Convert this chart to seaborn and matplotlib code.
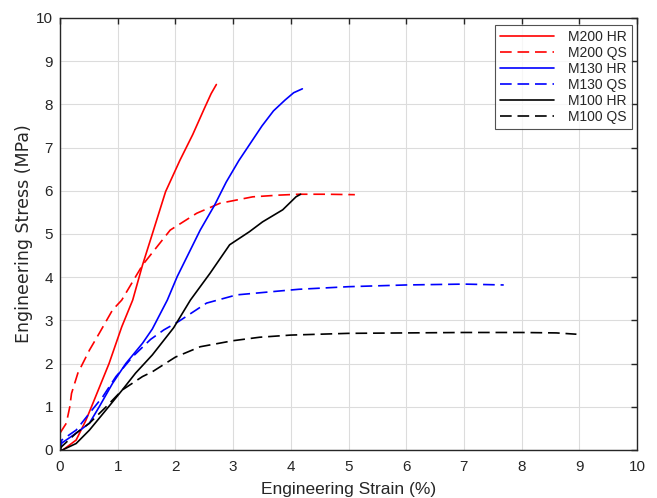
import matplotlib
matplotlib.use("Agg")
import matplotlib.pyplot as plt
import seaborn as sns
import pandas as pd

# strain (%) / stress (MPa)
m200_hr_strain = [0.0, 0.05, 0.28, 0.45, 0.57, 0.71, 0.85, 1.07, 1.26, 1.43, 1.6, 1.83, 2.08, 2.3, 2.5, 2.62, 2.71]
m200_hr_stress = [0.0, 0.0, 0.23, 0.69, 1.08, 1.54, 2.0, 2.85, 3.47, 4.28, 5.0, 5.98, 6.71, 7.3, 7.9, 8.25, 8.46]

m200_qs_strain = [0.0, 0.11, 0.17, 0.2, 0.31, 0.51, 0.68, 0.91, 1.07, 1.43, 1.91, 2.37, 2.77, 3.34, 3.8, 4.14, 4.6, 5.11]
m200_qs_stress = [0.39, 0.62, 1.0, 1.31, 1.78, 2.31, 2.7, 3.24, 3.47, 4.28, 5.09, 5.48, 5.71, 5.86, 5.9, 5.92, 5.92, 5.91]

m130_hr_strain = [0.0, 0.03, 0.28, 0.51, 0.68, 0.91, 1.14, 1.43, 1.6, 1.86, 2.03, 2.43, 2.68, 2.88, 3.1, 3.3, 3.5, 3.7, 3.9, 4.05, 4.2]
m130_hr_stress = [0.0, 0.16, 0.39, 0.62, 1.0, 1.54, 2.0, 2.47, 2.8, 3.47, 4.01, 5.09, 5.67, 6.2, 6.7, 7.1, 7.5, 7.85, 8.1, 8.27, 8.36]

m130_qs_strain = [0.0, 0.03, 0.28, 0.51, 0.74, 0.97, 1.26, 1.57, 1.8, 2.05, 2.54, 3.06, 3.8, 4.14, 5.0, 6.0, 7.0, 7.69]
m130_qs_stress = [0.0, 0.23, 0.46, 0.85, 1.23, 1.7, 2.16, 2.56, 2.78, 2.97, 3.4, 3.59, 3.68, 3.72, 3.78, 3.82, 3.84, 3.82]

m100_hr_strain = [0.0, 0.04, 0.28, 0.51, 0.8, 1.08, 1.31, 1.6, 1.97, 2.26, 2.6, 2.94, 3.28, 3.51, 3.86, 4.09, 4.17]
m100_hr_stress = [0.0, 0.0, 0.15, 0.46, 0.93, 1.39, 1.78, 2.2, 2.83, 3.47, 4.09, 4.75, 5.05, 5.28, 5.56, 5.86, 5.92]

m100_qs_strain = [0.0, 0.03, 0.28, 0.51, 0.8, 1.08, 1.43, 1.6, 2.0, 2.43, 3.0, 3.46, 4.0, 5.0, 6.0, 7.0, 8.0, 8.6, 8.95]
m100_qs_stress = [0.0, 0.08, 0.39, 0.62, 1.0, 1.39, 1.7, 1.81, 2.15, 2.39, 2.53, 2.61, 2.66, 2.7, 2.71, 2.72, 2.72, 2.71, 2.68]

series = [
    ("M200 HR", m200_hr_strain, m200_hr_stress, "#ff0000", "-"),
    ("M200 QS", m200_qs_strain, m200_qs_stress, "#ff0000", "--"),
    ("M130 HR", m130_hr_strain, m130_hr_stress, "#0000ff", "-"),
    ("M130 QS", m130_qs_strain, m130_qs_stress, "#0000ff", "--"),
    ("M100 HR", m100_hr_strain, m100_hr_stress, "#000000", "-"),
    ("M100 QS", m100_qs_strain, m100_qs_stress, "#000000", "--"),
]

sns.set_theme(style="whitegrid")
plt.rcParams["font.family"] = ["Liberation Sans", "DejaVu Sans"]

fig = plt.figure(figsize=(6.57, 4.98), dpi=100)
ax = fig.add_axes([0.0913, 0.0964, 0.8783, 0.8675])

for name, x, y, color, ls in series:
    df = pd.DataFrame({"strain": x, "stress": y})
    line_ax = sns.lineplot(data=df, x="strain", y="stress", ax=ax, color=color,
                           sort=False, estimator=None, label=name, linewidth=1.2)
    if ls == "--":
        line_ax.lines[-1].set_dashes((7, 3.5))

ax.set_xlim(0, 10)
ax.set_ylim(0, 10)
ax.set_xticks(range(0, 11))
ax.set_yticks(range(0, 11))
ax.grid(True, color="#dcdcdc", linewidth=0.8)
for side in ax.spines.values():
    side.set_color("#262626")
    side.set_linewidth(1.0)
ax.tick_params(direction="in", length=4, width=1, color="#262626",
               top=True, right=True, labelsize=11)
ax.tick_params(axis="x", pad=7)
ax.tick_params(axis="y", pad=5)
ax.set_xlabel("Engineering Strain (%)", fontsize=12.5, labelpad=6)
ax.set_ylabel("Engineering Stress (MPa)", fontsize=12.5, labelpad=2,
              family=["DejaVu Sans"])

leg = ax.legend(loc="upper right", fontsize=10, handlelength=3.9, labelspacing=0.15,
                handletextpad=1.0, borderpad=0.35, borderaxespad=0, frameon=True,
                fancybox=False, bbox_to_anchor=(0.991, 0.984))
leg.get_frame().set_edgecolor("#262626")
leg.get_frame().set_linewidth(0.8)

fig.savefig("out.png", dpi=100)
